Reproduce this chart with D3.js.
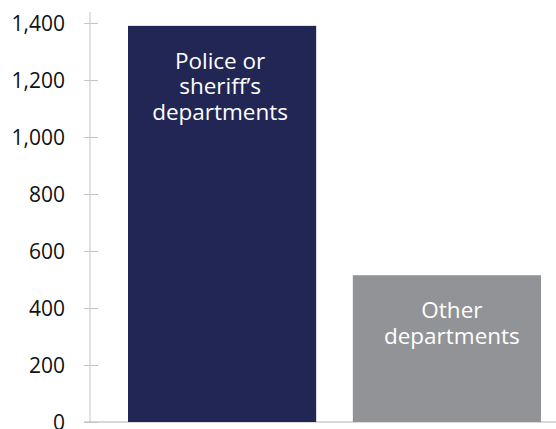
<!DOCTYPE html>
<html><head><meta charset="utf-8">
<script src="https://cdn.jsdelivr.net/npm/d3@7"></script>
<style>body{margin:0;background:#fff}svg{display:block}text{font-family:"Open Sans",sans-serif}</style>
</head><body><svg id="c" width="556" height="429"></svg>
<script>
const categories = ["Police or sheriff’s departments", "Other departments"];
const labelLines = [["Police or", "sheriff’s", "departments"], ["Other", "departments"]];
const values = [1390, 515];
const tickValues = [0, 200, 400, 600, 800, 1000, 1200, 1400];
const colors = ["#222654", "#929396"];

const svg = d3.select("#c");
const y = d3.scaleLinear().domain([0, 1400]).range([422, 23]);
const x = d3.scaleBand().domain(categories).range([90, 579]).paddingInner(0.163).paddingOuter(0.169);

// baseline
svg.append("line").attr("x1", 84).attr("x2", 556).attr("y1", y(0)).attr("y2", y(0))
  .attr("stroke", "#b3b3b3").attr("stroke-width", 1);

const axis = d3.axisLeft(y).tickValues(tickValues).tickFormat(d3.format(",")).tickSize(0).tickPadding(25);
const g = svg.append("g").attr("transform", "translate(90,0)").call(axis);
g.select(".domain").attr("stroke", "#c4c4c4").attr("d", `M0,${y(0)}V12`);
g.selectAll(".tick text").attr("font-size", 21).attr("fill", "#111").attr("font-family", "'Open Sans',sans-serif").attr("dy", "0.34em");
g.selectAll(".tick").append("line").attr("x1", -6).attr("x2", 8).attr("stroke", "#c4c4c4");

svg.selectAll("rect.bar").data(values).enter().append("rect")
  .attr("x", (d, i) => x(categories[i])).attr("width", x.bandwidth())
  .attr("y", d => y(d)).attr("height", d => y(0) - y(d))
  .attr("fill", (d, i) => colors[i]);

const lbl = svg.selectAll("text.lbl").data(values).enter().append("text")
  .attr("class", "lbl").attr("text-anchor", "middle").attr("fill", "#fff").attr("font-size", 22.5);
lbl.each(function(d, i) {
  const t = d3.select(this);
  const cx = x(categories[i]) + x.bandwidth() / 2 + (i === 1 ? 5 : -2);
  labelLines[i].forEach((s, j) => {
    t.append("tspan").attr("x", cx).attr("y", y(d) + 43 + j * 25.5).text(s);
  });
});
</script></body></html>
